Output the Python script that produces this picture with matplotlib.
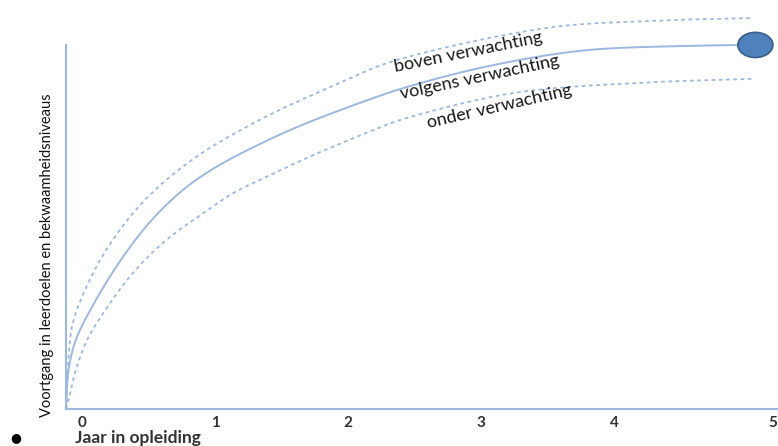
import numpy as np
import matplotlib.pyplot as plt
from matplotlib.patches import Ellipse
import matplotlib.transforms as mtransforms

# points (x = jaar, y = voortgang 0..100)
verwacht_x = [-0.120, -0.105, -0.053, 0.030, 0.256, 0.504, 0.759, 1.008, 1.383,
              1.692, 2.188, 2.391, 2.992, 3.744, 4.496, 4.985]
verwacht_y = [0, 9.9, 18.4, 25.0, 39.0, 51.1, 60.2, 66.5, 73.6,
              78.6, 85.4, 87.9, 93.7, 98.4, 99.7, 100]
boven_x = [-0.120, -0.113, -0.090, -0.060, 0.128, 0.383, 0.632, 0.880, 1.060, 1.436,
           1.940, 2.316, 3.496, 4.271, 5.045]
boven_y = [0, 5.2, 19.0, 25.0, 40.4, 53.8, 62.9, 69.8, 73.9, 81.3,
           89.6, 95.3, 104.7, 106.6, 107.4]
onder_x = [-0.120, -0.105, -0.053, 0.038, 0.150, 0.383, 0.632, 0.880, 1.135, 1.383,
           1.692, 2.188, 2.391, 3.241, 4.195, 5.045]
onder_y = [0, 1.6, 9.9, 19.0, 25.8, 37.4, 46.4, 53.0, 59.3, 63.7,
           69.0, 76.6, 79.4, 86.8, 89.6, 90.7]
jaren = [0, 1, 2, 3, 4, 5]
labels = ["boven verwachting", "volgens verwachting", "onder verwachting"]

LINE = "#9db8e0"
SX, SY = 133.0, 3.64   # px per unit, only used to smooth in screen-like space


def smooth(xs, ys, n=16, sigma=6.0):
    # centripetal catmull-rom through the read points
    P = np.column_stack([np.array(xs) * SX, np.array(ys) * SY])
    P = np.vstack([2 * P[0] - P[1], P, 2 * P[-1] - P[-2]])
    out = []
    for i in range(1, len(P) - 2):
        p0, p1, p2, p3 = P[i - 1], P[i], P[i + 1], P[i + 2]
        t0 = 0.0
        t1 = t0 + np.linalg.norm(p1 - p0) ** 0.5 + 1e-9
        t2 = t1 + np.linalg.norm(p2 - p1) ** 0.5 + 1e-9
        t3 = t2 + np.linalg.norm(p3 - p2) ** 0.5 + 1e-9
        t = np.linspace(t1, t2, n, endpoint=False)[:, None]
        a1 = (t1 - t) / (t1 - t0) * p0 + (t - t0) / (t1 - t0) * p1
        a2 = (t2 - t) / (t2 - t1) * p1 + (t - t1) / (t2 - t1) * p2
        a3 = (t3 - t) / (t3 - t2) * p2 + (t - t2) / (t3 - t2) * p3
        b1 = (t2 - t) / (t2 - t0) * a1 + (t - t0) / (t2 - t0) * a2
        b2 = (t3 - t) / (t3 - t1) * a2 + (t - t1) / (t3 - t1) * a3
        out.append((t2 - t) / (t2 - t1) * b1 + (t - t1) / (t2 - t1) * b2)
    out.append(P[-2][None, :])
    out = np.vstack(out)

    # resample every pixel along the path, then a small gaussian to iron out kinks
    d = np.concatenate([[0], np.cumsum(np.hypot(*np.diff(out, axis=0).T))])
    s = np.arange(0, d[-1], 1.0)
    px = np.interp(s, d, out[:, 0])
    py = np.interp(s, d, out[:, 1])
    r = int(3 * sigma)
    g = np.exp(-0.5 * (np.arange(-r, r + 1) / sigma) ** 2)
    g /= g.sum()

    def blur(v):
        # odd reflection keeps the end points where they are
        pad = np.concatenate([2 * v[0] - v[r:0:-1], v, 2 * v[-1] - v[-2:-r - 2:-1]])
        return np.convolve(pad, g, mode="valid")

    return blur(px) / SX, blur(py) / SY


fig = plt.figure(figsize=(7.78, 4.46), dpi=100)
ax = fig.add_axes([66 / 778, 37 / 446, 712 / 778, 399 / 446])
ax.set_xlim(-0.12, 5.23)
ax.set_ylim(0, 109.6)

x, y = smooth(verwacht_x, verwacht_y)
ax.plot(x, y, color=LINE, lw=1.4, solid_capstyle="round")
x, y = smooth(boven_x, boven_y)
ax.plot(x, y, color=LINE, lw=1.3, ls=(0, (2, 2)))
x, y = smooth(onder_x, onder_y)
ax.plot(x, y, color=LINE, lw=1.3, ls=(0, (2, 2)))

ax.add_patch(Ellipse((5.06, 100), 0.263, 6.9, facecolor="#4f81bd",
                     edgecolor="#385d8a", lw=1.2, clip_on=False, zorder=5))

tfont = dict(family=["Lato", "DejaVu Sans"], fontsize=13, color="#1a1a1a",
             ha="center", va="center", rotation_mode="anchor")
ax.text(2.90, 98.1, labels[0], rotation=11.5, **tfont)
ax.text(2.99, 91.2, labels[1], rotation=12, **tfont)
ax.text(3.135, 83.0, labels[2], rotation=13, **tfont)

for s in ["top", "right"]:
    ax.spines[s].set_visible(False)
ax.spines["left"].set_bounds(0, 100)
ax.spines["left"].set_color(LINE)
ax.spines["bottom"].set_color(LINE)
ax.spines["left"].set_linewidth(1.5)
ax.spines["bottom"].set_linewidth(1.5)

ax.set_yticks([])
ax.set_xticks(jaren)
ax.set_xticklabels([str(j) for j in jaren], fontsize=11, fontweight="bold",
                   color="#333333", family=["Lato", "DejaVu Sans"])
ax.tick_params(axis="x", length=0, pad=5)
# the "5" sits a bit further right in the original
lab5 = ax.get_xticklabels()[-1]
lab5.set_transform(lab5.get_transform() + mtransforms.ScaledTranslation(25 / 100, 0, fig.dpi_scale_trans))

fig.text(47 / 778, 1 - 255 / 446, "Voortgang in leerdoelen en bekwaamheidsniveaus",
         rotation=90, ha="center", va="center", fontsize=10.5, color="#111111",
         family=["Lato", "DejaVu Sans"])
fig.text(75 / 778, 1 - 438 / 446, "Jaar in opleiding", ha="left", va="center",
         fontsize=12.5, fontweight="bold", color="#333333", family=["Lato", "DejaVu Sans"])
fig.text(16 / 778, 1 - 438 / 446, "\u25cf", ha="center", va="center", fontsize=9, color="black")

fig.savefig("out.png", dpi=100)
